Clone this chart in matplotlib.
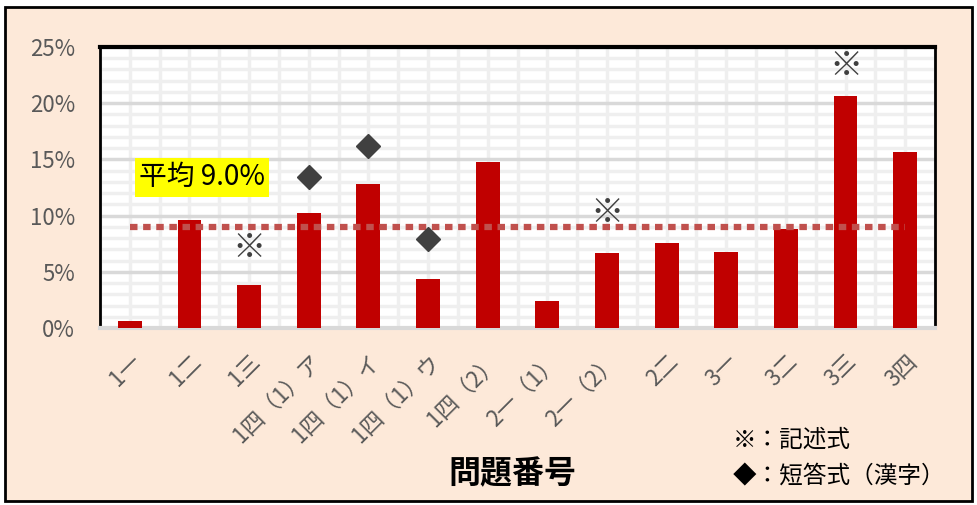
import numpy as np
import matplotlib.pyplot as plt
from matplotlib.patches import Rectangle
from matplotlib.ticker import MultipleLocator, FuncFormatter

plt.rcParams['font.family'] = ['Noto Sans CJK JP', 'DejaVu Sans']

# data (percent)
categories = ["1一", "1二", "1三", "1四（1）ア", "1四（1）イ", "1四（1）ウ", "1四（2）",
              "2一（1）", "2一（2）", "2二", "3一", "3二", "3三", "3四"]
rates = [0.6, 9.6, 3.8, 10.2, 12.8, 4.4, 14.8, 2.4, 6.7, 7.6, 6.8, 8.8, 20.6, 15.7]
average = 9.0
kome_idx = [2, 8, 12]          # ※ 記述式
kome_y = [7.1, 10.2, 23.3]
diamond_idx = [3, 4, 5]        # ◆ 短答式（漢字）
diamond_y = [13.4, 16.2, 7.9]

bar_color = '#c00000'
peach = '#fde9d9'
gray_txt = '#595959'

fig = plt.figure(figsize=(9.77, 5.05), dpi=100)
fig.patch.set_facecolor('white')
fig.patches.append(Rectangle((5/977, 4/505), 967/977, 494/505, transform=fig.transFigure,
                             facecolor=peach, edgecolor='black', lw=2, zorder=-10))

ax = fig.add_axes([100/977, 1 - 328/505, 835/977, 281/505])
ax.set_facecolor('white')
x = np.arange(len(categories))

ax.bar(x, rates, width=0.4, color=bar_color, zorder=3)
ax.plot(x, [average] * len(x), color='#c0504d', lw=4.5, linestyle=(0, (1.2, 0.9)),
        dash_capstyle='butt', zorder=4)
for i, yv in zip(kome_idx, kome_y):
    ax.text(x[i], yv, '※', ha='center', va='center', fontsize=24, color='#404040', zorder=5)
ax.plot(x[diamond_idx], diamond_y, linestyle='none', marker='D', ms=12,
        color='#404040', zorder=5)

ax.text(1.21, 13.4, '平均 9.0%', ha='center', va='center', fontsize=20, color='black',
        bbox=dict(facecolor='#ffff00', edgecolor='none', pad=3), zorder=6)

ax.set_xlim(-0.5, len(categories) - 0.5)
ax.set_ylim(0, 25)
ax.yaxis.set_major_locator(MultipleLocator(5))
ax.yaxis.set_minor_locator(MultipleLocator(1))
ax.yaxis.set_major_formatter(FuncFormatter(lambda v, p: f'{v:.0f}%'))
ax.set_xticks(x)
ax.set_xticks(np.arange(-0.5, len(categories), 1), minor=True)
ax.set_xticklabels(categories, rotation=45, ha='right', va='top', rotation_mode='anchor',
                   fontsize=16, color=gray_txt)
ax.tick_params(axis='both', which='both', length=0)
ax.tick_params(axis='y', which='major', pad=18, labelsize=16, labelcolor=gray_txt)
ax.tick_params(axis='x', pad=16)

ax.grid(axis='y', which='minor', color='#efefef', lw=2.5, zorder=0)
ax.grid(axis='y', which='major', color='#d9d9d9', lw=2.5, zorder=1)
ax.grid(axis='x', which='both', color='#efefef', lw=2.5, zorder=0)
ax.set_axisbelow(True)

for side in ['top', 'left', 'right']:
    ax.spines[side].set_color('black')
ax.spines['top'].set_linewidth(3)
ax.spines['left'].set_linewidth(2)
ax.spines['right'].set_linewidth(2)
ax.spines['bottom'].set_color('#d9d9d9')
ax.spines['bottom'].set_linewidth(3)

fig.text(512/977, 1 - 474/505, '問題番号', ha='center', va='center', fontsize=23,
         fontweight='bold', color='black')
fig.text(733/977, 1 - 440/505, '※：記述式', ha='left', va='center', fontsize=17, color='black')
fig.text(733/977, 1 - 477/505, '◆：短答式（漢字）', ha='left', va='center', fontsize=17,
         color='black')

fig.savefig('out.png', dpi=100)
